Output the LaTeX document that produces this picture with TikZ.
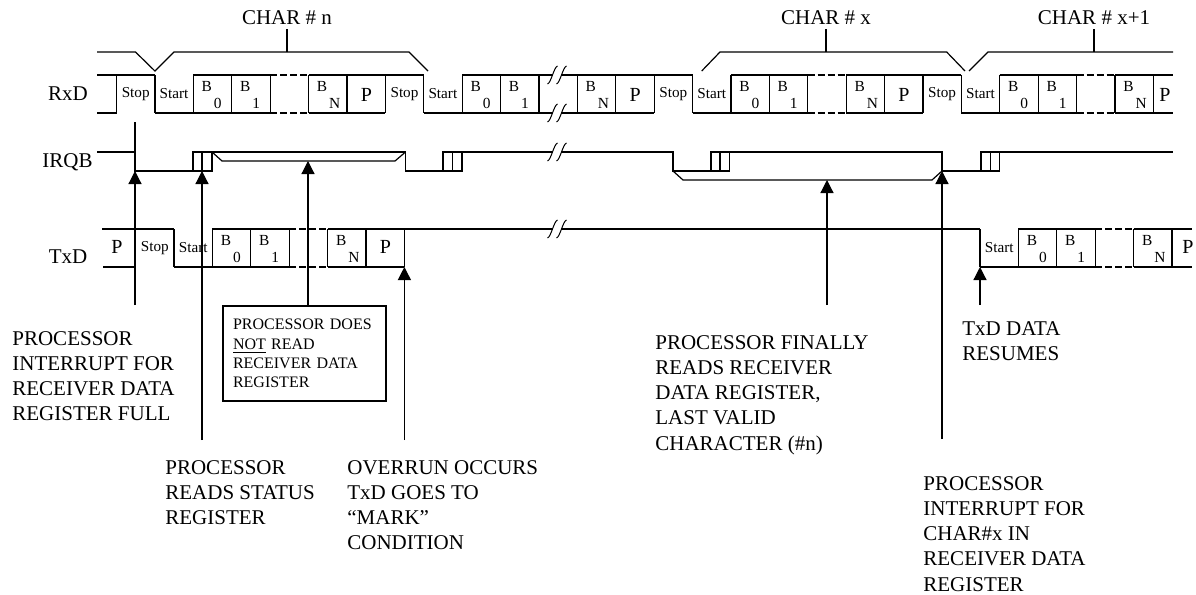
\documentclass[tikz,border=0pt]{standalone}
\usepackage{fontspec}
\setmainfont{Liberation Serif}
\usetikzlibrary{arrows.meta}

\tikzset{
    wave/.style={line width=0.6pt},
    dwave/.style={line width=0.6pt, dash pattern=on 3.5pt off 1.5pt},
    sig/.style={font=\fontsize{10.5}{12.6}\selectfont, inner sep=0pt},
    tag/.style={font=\fontsize{7.6}{9}\selectfont, inner sep=0pt},
    bit/.style={font=\fontsize{7.7}{9}\selectfont, inner sep=0pt, anchor=base west},
    parity/.style={font=\fontsize{10}{12}\selectfont, inner sep=0pt},
    note/.style={font=\fontsize{10.5}{12.6}\selectfont, align=left, anchor=north west, inner sep=0pt},
    pointer/.style={line width=0.6pt, -{Triangle[width=6.5pt,length=6.5pt]}},
    tick/.style={line width=0.6pt, shorten <=2pt}
}

\begin{document}
\begin{tikzpicture}[x=0.5pt,y=-0.5pt]
    \useasboundingbox (0,0) rectangle (1196,595);

    % character brackets
    \node[sig] (chn) at (287,18) {CHAR \# n};
    \node[sig] (chx) at (826,18) {CHAR \# x};
    \node[sig] (chxa) at (1094,18) {CHAR \# x+1};
    \coordinate (chnf) at (287,52);
    \coordinate (chxf) at (826,52);
    \coordinate (chxaf) at (1094,52);
    \draw[wave] (97,52) -- (135.5,52) -- (154.9,71) -- (174,52) -- (409,52) -- (428,71);
    \draw[wave] (701.7,71) -- (720,52) -- (946.7,52) -- (965,71);
    \draw[wave] (969,71) -- (988,52) -- (1173,52);
    \draw[tick] (chn) -- (chnf);
    \draw[tick] (chx) -- (chxf);
    \draw[tick] (chxa) -- (chxaf);

    % RxD
    \node[sig] (rxd) at (68,94) {RxD};
    \foreach \k in {0,...,27}
        \draw[wave] (116.5+38.4*\k,75) -- (116.5+38.4*\k,113);
    \foreach \a/\b in {97/154.9, 193.3/270.1, 308.5/423.7, 462.1/692.5, 730.9/807.7, 846.1/961.3, 999.7/1076.5, 1114.9/1173}
        \draw[wave] (\a,75) -- (\b,75);
    \foreach \a/\b in {97/116.5, 154.9/270.1, 308.5/385.3, 423.7/654.1, 692.5/807.7, 846.1/922.9, 961.3/1076.5, 1114.9/1173}
        \draw[wave] (\a,113) -- (\b,113);
    \foreach \a/\b in {270.1/308.5, 807.7/846.1, 1076.5/1114.9} {
        \draw[dwave] (\a,75) -- (\b,75);
        \draw[dwave] (\a,113) -- (\b,113);
    }
    \foreach \k in {0,7,14,21}
        \node[tag] (rstop\k) at (116.5+38.4*\k+19.2,94) {Stop};
    \foreach \k in {1,8,15,22}
        \node[tag] (rstart\k) at (116.5+38.4*\k+19.2,94) {Start};
    \foreach \k/\lab in {2/0,3/1,5/N,9/0,10/1,12/N,16/0,17/1,19/N,23/0,24/1,26/N}
        \node[bit] (rb\k) at (116.5+38.4*\k+8,91) {B\kern1pt\raisebox{-8.5pt}{\lab}};
    \foreach \k in {6,13,20}
        \node[parity] (rp\k) at (116.5+38.4*\k+19.5,95) {P};
    \node[parity] (rp27) at (1165,95) {P};

    % IRQB
    \node[sig] (irqb) at (67.5,162) {IRQB};
    \draw[wave] (97,152) -- (135,152);
    \draw[wave] (135,122) -- (135,171) -- (193,171);
    \draw[wave] (212,152) -- (405.5,152) -- (405.5,171) -- (443,171);
    \draw[wave] (212,152) -- (222,161) -- (395,161) -- (405.5,152);
    \draw[wave] (462,152) -- (673,152) -- (673,171) -- (711,171);
    \draw[wave] (729.5,152) -- (942,152) -- (942,171) -- (981,171);
    \draw[wave] (673,171) -- (683,180) -- (932,180) -- (942,171);
    \draw[wave] (999.5,152) -- (1173,152);
    \foreach \a/\m/\b in {193/202/212, 443/452.5/462, 711/720/729.5, 981/990.5/999.5} {
        \draw[wave] (\a,171) rectangle (\b,152);
        \draw[wave] (\m,152) -- (\m,171);
    }

    % TxD
    \node[sig] (txd) at (68,257) {TxD};
    \foreach \x in {174,212.4,250.8,289.2,327.6,366,404.4,980,1018.4,1056.8,1095.2,1133.6,1172}
        \draw[wave] (\x,229) -- (\x,267);
    \foreach \a/\b in {102/174, 212.4/289.2, 327.6/980, 1018.4/1095.2, 1133.6/1192}
        \draw[wave] (\a,229) -- (\b,229);
    \foreach \a/\b in {103/136, 174/289.2, 327.6/404.4, 980/1095.2, 1133.6/1192}
        \draw[wave] (\a,267) -- (\b,267);
    \foreach \a/\b in {289.2/327.6, 1095.2/1133.6} {
        \draw[dwave] (\a,229) -- (\b,229);
        \draw[dwave] (\a,267) -- (\b,267);
    }
    \node[parity] (tp0) at (117,247) {P};
    \node[tag] (tstop) at (154.8,248) {Stop};
    \node[tag] (tstart) at (193.2,248) {Start};
    \node[tag] (tstartb) at (999.2,248) {Start};
    \foreach \x/\lab in {212.4/0,250.8/1,327.6/N,1018.4/0,1056.8/1,1133.6/N}
        \node[bit] (tb\x) at (\x+8,245) {B\kern1pt\raisebox{-8.5pt}{\lab}};
    \node[parity] (tp1) at (385.5,247) {P};
    \node[parity] (tp2) at (1188,247) {P};

    % breaks
    \foreach \y in {75,113,152,229} {
        \fill[white] (553,\y-3) rectangle (561,\y+3);
        \draw[line width=0.5pt] (547.5,\y+9) .. controls (551,\y+8) and (554,\y-8) .. (557.5,\y-9);
        \draw[line width=0.5pt] (556.5,\y+9) .. controls (560,\y+8) and (563,\y-8) .. (566.5,\y-9);
    }

    % notes
    \node[note] (n1) at (12,331) {PROCESSOR\\INTERRUPT FOR\\RECEIVER DATA\\REGISTER FULL};
    \node[draw, line width=1pt, anchor=north west, align=left, text width=71.5pt,
          inner xsep=5pt, inner ysep=6.7pt, font=\fontsize{8}{9.6}\selectfont] (nbox) at (222,305)
          {PROCESSOR DOES\\\underline{NOT} READ\\RECEIVER DATA\\REGISTER};
    \node[note] (n2) at (165,460) {PROCESSOR\\READS STATUS\\REGISTER};
    \node[note] (n3) at (347,460) {OVERRUN OCCURS\\TxD GOES TO\\“MARK”\\CONDITION};
    \node[note] (n4) at (655,335) {PROCESSOR FINALLY\\READS RECEIVER\\DATA REGISTER,\\LAST VALID\\CHARACTER (\#n)};
    \node[note] (n5) at (962,321) {TxD DATA\\RESUMES};
    \node[note] (n6) at (923,476) {PROCESSOR\\INTERRUPT FOR\\CHAR\#x IN\\RECEIVER DATA\\REGISTER};

    % pointers
    \coordinate (h1) at (135,171);   \coordinate (t1) at (135,305);
    \coordinate (h2) at (202,171);   \coordinate (t2) at (202,440);
    \coordinate (h3) at (308,161);
    \coordinate (h4) at (404.4,267); \coordinate (t4) at (404.4,440);
    \coordinate (h5) at (827,180);   \coordinate (t5) at (827,305);
    \coordinate (h6) at (942,171);   \coordinate (t6) at (942,439);
    \coordinate (h7) at (980,267);   \coordinate (t7) at (980,305);
    \draw[pointer] (t1) -- (h1);
    \draw[pointer] (t2) -- (h2);
    \draw[pointer] (nbox.north -| h3) -- (h3);
    \draw[pointer] (t4) -- (h4);
    \draw[pointer] (t5) -- (h5);
    \draw[pointer] (t6) -- (h6);
    \draw[pointer] (t7) -- (h7);
\end{tikzpicture}
\end{document}
